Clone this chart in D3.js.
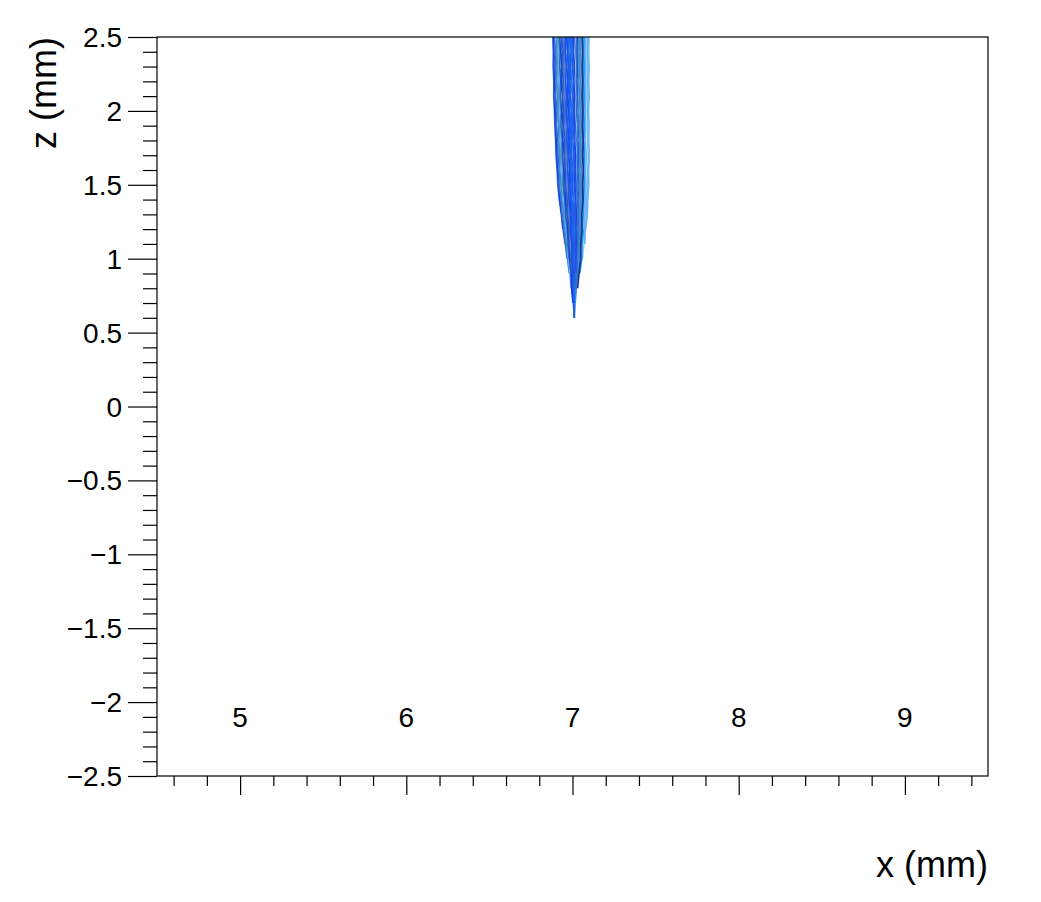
<!DOCTYPE html>
<html lang="en">
<head>
  <meta charset="UTF-8">
  <title>Drift lines x-z</title>
  <script src="https://d3js.org/d3.v7.min.js"></script>
  <style>
    body { margin: 0; background: #fff; }
    svg { display: block; }
    .tick-label { font-family: "Liberation Sans", Arial, sans-serif; font-size: 28px; fill: #000; }
    .axis-title { font-family: "Liberation Sans", Arial, sans-serif; font-size: 36px; fill: #000; }
    .track { fill: none; stroke-width: 1.7px; stroke-linejoin: round; }
  </style>
</head>
<body>
  <svg id="chart" width="1041" height="902"></svg>
  <script>
    // z levels shared by all tracks (mm), from top of the frame downwards
    const zLevels = [2.5, 2.4, 2.3, 2.2, 2.1, 2.0, 1.9, 1.8, 1.7, 1.6,
                     1.5, 1.4, 1.3, 1.2, 1.1, 1.0, 0.9, 0.8, 0.7, 0.6];

    // x position (mm) of each drift line at the z levels above
    const tracks = [
      [6.882, 6.885, 6.884, 6.888, 6.887, 6.892, 6.894, 6.899, 6.901, 6.908, 6.912, 6.921, 6.933, 6.942],
      [6.945, 6.943, 6.949, 6.946, 6.951, 6.949, 6.956, 6.955, 6.961, 6.960, 6.967, 6.968, 6.978, 6.979, 6.989, 6.990, 6.997, 6.997, 7.005, 7.011],
      [7.049, 7.050, 7.050, 7.051, 7.051, 7.052, 7.053, 7.054, 7.054, 7.055, 7.055, 7.054, 7.052, 7.049, 7.047, 7.043, 7.036],
      [6.887, 6.888, 6.892, 6.891, 6.896, 6.895, 6.902, 6.903, 6.909, 6.911, 6.917, 6.924, 6.936, 6.944, 6.956],
      [7.012, 7.017, 7.014, 7.019, 7.015, 7.020, 7.018, 7.023, 7.021, 7.026, 7.023, 7.028, 7.024, 7.029, 7.025, 7.027],
      [6.891, 6.897, 6.895, 6.901, 6.899, 6.905, 6.904, 6.912, 6.913, 6.920, 6.919, 6.932, 6.937, 6.951, 6.957, 6.968],
      [7.088, 7.085, 7.089, 7.086, 7.090, 7.088, 7.093, 7.095, 7.096, 7.094, 7.090, 7.085, 7.081, 7.071, 7.069, 7.060],
      [6.964, 6.969, 6.966, 6.971, 6.969, 6.974, 6.972, 6.979, 6.977, 6.984, 6.981, 6.990, 6.990, 6.997, 6.997, 7.004, 7.003, 7.006, 7.008],
      [6.904, 6.901, 6.907, 6.905, 6.911, 6.909, 6.917, 6.916, 6.924, 6.923, 6.931, 6.935, 6.948, 6.952, 6.965, 6.970, 6.981],
      [7.028, 7.032, 7.029, 7.034, 7.030, 7.035, 7.032, 7.037, 7.035, 7.040, 7.036, 7.040, 7.035, 7.039, 7.034, 7.034, 7.027],
      [6.907, 6.912, 6.911, 6.916, 6.914, 6.919, 6.920, 6.926, 6.927, 6.933, 6.932, 6.945, 6.949, 6.960, 6.964],
      [6.985, 6.989, 6.986, 6.991, 6.988, 6.993, 6.991, 6.997, 6.995, 7.001, 6.998, 7.006, 7.004, 7.010, 7.008, 7.014, 7.010, 7.011],
      [7.066, 7.063, 7.067, 7.064, 7.068, 7.064, 7.069, 7.066, 7.070, 7.067, 7.070, 7.064, 7.065, 7.057, 7.058],
      [6.916, 6.914, 6.920, 6.918, 6.924, 6.922, 6.929, 6.928, 6.936, 6.935, 6.942, 6.946, 6.957, 6.961, 6.972, 6.975, 6.985, 6.991],
      [7.009, 7.006, 7.011, 7.008, 7.013, 7.010, 7.015, 7.013, 7.019, 7.017, 7.021, 7.019, 7.024, 7.020, 7.025, 7.021, 7.022, 7.015, 7.014, 7.010],
      [6.920, 6.925, 6.924, 6.929, 6.926, 6.932, 6.931, 6.938, 6.938, 6.945, 6.944, 6.955, 6.958, 6.969, 6.972, 6.982],
      [7.037, 7.035, 7.039, 7.036, 7.041, 7.037, 7.042, 7.039, 7.045, 7.042, 7.045, 7.042, 7.044, 7.039, 7.041, 7.035, 7.032, 7.023, 7.016],
      [6.932, 6.930, 6.936, 6.933, 6.939, 6.936, 6.943, 6.942, 6.950, 6.949, 6.955, 6.958, 6.968, 6.971, 6.981, 6.983, 6.992, 6.995, 7.003],
      [7.094, 7.091, 7.095, 7.092, 7.096, 7.092, 7.096, 7.093, 7.097, 7.093, 7.094, 7.087, 7.085, 7.076, 7.074],
      [6.935, 6.941, 6.938, 6.944, 6.941, 6.947, 6.946, 6.953, 6.951, 6.958, 6.957, 6.967, 6.969, 6.979, 6.981, 6.990, 6.991],
      [6.995, 6.993, 6.998, 6.995, 7.000, 6.997, 7.003, 7.001, 7.007, 7.005, 7.010, 7.008, 7.014, 7.012, 7.018, 7.015, 7.017, 7.011, 7.012],
      [6.948, 6.954, 6.951, 6.956, 6.954, 6.959, 6.958, 6.965, 6.963, 6.970, 6.968, 6.978, 6.979, 6.987, 6.988, 6.996],
      [7.069, 7.074, 7.070, 7.074, 7.070, 7.075, 7.071, 7.076, 7.072, 7.077, 7.072, 7.073, 7.065, 7.066, 7.058, 7.056, 7.044],
      [6.958, 6.956, 6.962, 6.959, 6.964, 6.962, 6.968, 6.967, 6.973, 6.972, 6.978, 6.979, 6.987, 6.988, 6.996, 6.997, 7.002, 7.003],
      [7.024, 7.022, 7.026, 7.023, 7.028, 7.025, 7.030, 7.027, 7.033, 7.030, 7.034, 7.031, 7.035, 7.030, 7.034, 7.028, 7.027, 7.019],
      [6.973, 6.972, 6.977, 6.974, 6.979, 6.976, 6.983, 6.981, 6.987, 6.985, 6.991, 6.991, 6.998, 6.998, 7.005, 7.004, 7.008],
      [7.099, 7.097, 7.100, 7.098, 7.100, 7.097, 7.099, 7.098, 7.100, 7.097, 7.098, 7.092, 7.089, 7.080],
      [6.980, 6.978, 6.983, 6.980, 6.985, 6.983, 6.989, 6.987, 6.993, 6.991, 6.997, 6.996, 7.003, 7.002, 7.009, 7.007, 7.011, 7.007, 7.010, 7.011],
      [7.041, 7.045, 7.042, 7.046, 7.043, 7.047, 7.044, 7.049, 7.047, 7.052, 7.047, 7.051, 7.045, 7.047, 7.041, 7.041],
      [6.999, 7.004, 7.001, 7.006, 7.003, 7.008, 7.005, 7.011, 7.009, 7.015, 7.011, 7.018, 7.015, 7.020, 7.017, 7.021, 7.016],
      [7.079, 7.076, 7.080, 7.077, 7.081, 7.077, 7.081, 7.078, 7.082, 7.079, 7.081, 7.075, 7.074, 7.066],
      [7.057, 7.061, 7.058, 7.061, 7.058, 7.062, 7.059, 7.064, 7.061, 7.065, 7.060, 7.063, 7.056, 7.057, 7.050, 7.049, 7.039, 7.031]
    ];

    const trackColors = [
      "#1f5fff", "#2a7ad8", "#5aa0e6", "#1a3fd0", "#8cc8ff", "#3b6fc4", "#9fd0ff", "#0f4cff",
      "#2f8ae0", "#1c2f9a", "#4a90d9", "#2255ee", "#3a7fb8", "#6aaaf0", "#1446e0", "#2b6bb0",
      "#3d8df0", "#0b3cf0", "#5fb0ff", "#2e5fb8", "#1f78e8", "#4f7fe0", "#18a0f0", "#2a4fd8",
      "#3370c8", "#0d56f5", "#72b8f5", "#1d64e8", "#3f88d0", "#2850e6", "#6ab4ff", "#1a3590"
    ];

    const xMajor = [5, 6, 7, 8, 9];
    const yMajor = [-2.5, -2, -1.5, -1, -0.5, 0, 0.5, 1, 1.5, 2, 2.5];

    const xTitle = "x (mm)";
    const yTitle = "z (mm)";

    // frame geometry
    const frameL = 157, frameR = 988, frameT = 37, frameB = 776;

    const svg = d3.select("#chart");
    const x = d3.scaleLinear().domain([4.5, 9.5]).range([frameL, frameR]);
    const y = d3.scaleLinear().domain([-2.5, 2.5]).range([frameB, frameT]);

    // minor ticks
    const xMinor = d3.range(46, 96, 2).map(v => v / 10).filter(v => !xMajor.includes(v));
    const yMinor = d3.range(-25, 26, 1).map(v => v / 10).filter(v => !yMajor.some(m => Math.abs(m - v) < 1e-9));

    // drift lines
    const line = d3.line().x(d => x(d[0])).y(d => y(d[1]));
    svg.append("g")
      .selectAll("path")
      .data(tracks)
      .join("path")
      .attr("class", "track")
      .attr("stroke", (d, i) => trackColors[i % trackColors.length])
      .attr("d", d => line(d.map((v, i) => [v, zLevels[i]])));

    // y axis (ticks pointing outside, to the left)
    svg.append("g")
      .attr("transform", `translate(${frameL},0)`)
      .call(d3.axisLeft(y).tickValues(yMinor).tickSize(14).tickFormat(""))
      .call(g => g.select(".domain").remove());
    svg.append("g")
      .attr("transform", `translate(${frameL},0)`)
      .call(d3.axisLeft(y).tickValues(yMajor).tickSize(29).tickFormat(""))
      .call(g => g.select(".domain").remove());

    svg.append("g")
      .selectAll("text")
      .data(yMajor)
      .join("text")
      .attr("class", "tick-label")
      .attr("x", 122)
      .attr("y", d => y(d) + 10)
      .attr("text-anchor", "end")
      .text(d => d3.format("")(d));

    // x axis (ticks below the frame, labels drawn inside)
    svg.append("g")
      .attr("transform", `translate(0,${frameB})`)
      .call(d3.axisBottom(x).tickValues(xMinor).tickSize(10).tickFormat(""))
      .call(g => g.select(".domain").remove());
    svg.append("g")
      .attr("transform", `translate(0,${frameB})`)
      .call(d3.axisBottom(x).tickValues(xMajor).tickSize(19).tickFormat(""))
      .call(g => g.select(".domain").remove());

    svg.append("g")
      .selectAll("text")
      .data(xMajor)
      .join("text")
      .attr("class", "tick-label")
      .attr("x", d => x(d))
      .attr("y", 727)
      .attr("text-anchor", "middle")
      .text(d => d3.format("")(d));

    svg.selectAll(".tick line").attr("stroke", "#000").attr("stroke-width", 1.2);

    // frame
    svg.append("rect")
      .attr("x", frameL).attr("y", frameT)
      .attr("width", frameR - frameL).attr("height", frameB - frameT)
      .attr("fill", "none").attr("stroke", "#000").attr("stroke-width", 1.2);

    // axis titles
    svg.append("text")
      .attr("class", "axis-title")
      .attr("x", frameR).attr("y", 877)
      .attr("text-anchor", "end")
      .text(xTitle);

    svg.append("text")
      .attr("class", "axis-title")
      .attr("transform", `translate(56,${frameT}) rotate(-90)`)
      .attr("text-anchor", "end")
      .text(yTitle);
  </script>
</body>
</html>
